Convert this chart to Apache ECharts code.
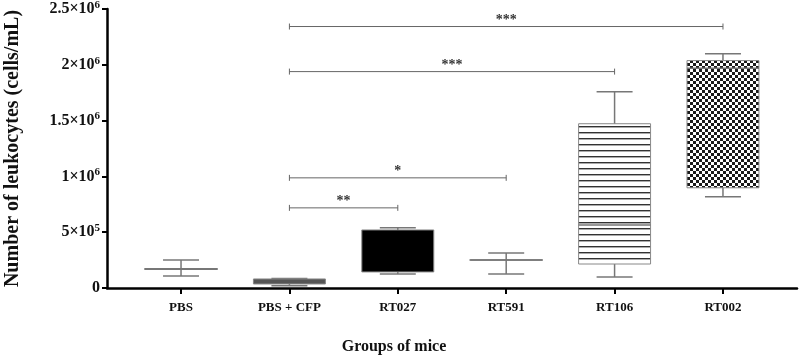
<!DOCTYPE html>
<html>
<head>
<meta charset="utf-8">
<script src="https://cdn.jsdelivr.net/npm/echarts@6/dist/echarts.min.js"></script>
<style>
  html, body { margin: 0; padding: 0; background: #fff; }
  #chart { width: 800px; height: 357px; }
</style>
</head>
<body>
<div id="chart"></div>
<script>
// groups on the x axis
const groups = ['PBS', 'PBS + CFP', 'RT027', 'RT591', 'RT106', 'RT002']
// box plot values (cells/mL)
const mins = [108000, 20000, 126000, 126000, 99000, 817000]
const q1s = [168000, 36000, 144000, 250000, 215000, 898000]
const medians = [170000, 55000, 330000, 251000, 565000, 1970000]
const q3s = [172000, 81000, 520000, 252000, 1472000, 2038000]
const maxs = [251000, 85000, 539000, 314000, 1759000, 2100000]
// y ticks
const yTicks = [0, 500000, 1000000, 1500000, 2000000, 2500000]
const yTickLabels = ['0', '5×10^5', '1×10^6', '1.5×10^6', '2×10^6', '2.5×10^6']
// significance brackets
const sigFrom = [1, 1, 1, 1]
const sigTo = [5, 4, 3, 2]
const sigLevel = [2343000, 1939000, 987000, 718000]
const sigLabel = ['***', '***', '*', '**']

// 填充图案
function makeHatch () {
  const c = document.createElement('canvas')
  c.width = 4; c.height = 6
  const ctx = c.getContext('2d')
  ctx.fillStyle = '#fff'; ctx.fillRect(0, 0, 4, 6)
  ctx.fillStyle = '#333'; ctx.fillRect(0, 0, 4, 1)
  ctx.fillStyle = '#aaa'; ctx.fillRect(0, 1, 4, 1)
  return { image: c, repeat: 'repeat' }
}
function makeChecker () {
  const c = document.createElement('canvas')
  c.width = 6; c.height = 6
  const ctx = c.getContext('2d')
  ctx.fillStyle = '#fff'; ctx.fillRect(0, 0, 6, 6)
  ctx.fillStyle = '#1a1a1a'
  ctx.fillRect(0, 0, 3, 3); ctx.fillRect(3, 3, 3, 3)
  return { image: c, repeat: 'repeat' }
}
const boxFills = [null, '#555', '#000', null, makeHatch(), makeChecker()]
const lineColor = '#777'
const font = '"Liberation Serif", "Times New Roman", serif'

const boxData = groups.map((g, i) => [i, mins[i], q1s[i], medians[i], q3s[i], maxs[i]])
const sigData = sigFrom.map((f, i) => [f, sigTo[i], sigLevel[i]])

function renderBox (params, api) {
  const i = api.value(0)
  const pMin = api.coord([i, api.value(1)])
  const pQ1 = api.coord([i, api.value(2)])
  const pMed = api.coord([i, api.value(3)])
  const pQ3 = api.coord([i, api.value(4)])
  const pMax = api.coord([i, api.value(5)])
  const half = api.size([0.332, 0])[0]
  const cap = half / 2
  const x = pMin[0]
  const fill = boxFills[params.dataIndex]
  const ls = { stroke: lineColor, lineWidth: 1.5 }
  const children = [
    { type: 'line', shape: { x1: x, y1: pMin[1], x2: x, y2: pMax[1] }, style: ls },
    { type: 'line', shape: { x1: x - cap, y1: pMin[1], x2: x + cap, y2: pMin[1] }, style: ls },
    { type: 'line', shape: { x1: x - cap, y1: pMax[1], x2: x + cap, y2: pMax[1] }, style: ls },
    {
      type: 'rect',
      shape: { x: x - half, y: pQ3[1], width: half * 2, height: pQ1[1] - pQ3[1] },
      style: { fill: fill || 'none', stroke: fill ? '#888' : lineColor, lineWidth: fill ? 1 : 1.5 }
    }
  ]
  if (!fill || typeof fill !== 'string') {
    children.push({ type: 'line', shape: { x1: x - half, y1: pMed[1], x2: x + half, y2: pMed[1] }, style: ls })
  }
  return { type: 'group', children }
}

function renderSig (params, api) {
  const a = api.coord([api.value(0), api.value(2)])
  const b = api.coord([api.value(1), api.value(2)])
  const ls = { stroke: '#666', lineWidth: 1 }
  return {
    type: 'group',
    children: [
      { type: 'line', shape: { x1: a[0], y1: a[1], x2: b[0], y2: b[1] }, style: ls },
      { type: 'line', shape: { x1: a[0], y1: a[1] - 3, x2: a[0], y2: a[1] + 3 }, style: ls },
      { type: 'line', shape: { x1: b[0], y1: b[1] - 3, x2: b[0], y2: b[1] + 3 }, style: ls },
      {
        type: 'text',
        style: {
          x: (a[0] + b[0]) / 2,
          y: a[1] + 1,
          text: sigLabel[params.dataIndex],
          fill: '#333',
          font: 'bold 14px ' + font,
          align: 'center',
          verticalAlign: 'bottom'
        }
      }
    ]
  }
}

const chart = echarts.init(document.getElementById('chart'))
chart.setOption({
  animation: false,
  grid: { left: 107, right: 3, top: 9, bottom: 69, outerBoundsMode: 'none', containLabel: false },
  xAxis: {
    type: 'value',
    min: -0.683,
    max: 5.683,
    name: 'Groups of mice',
    nameLocation: 'middle',
    nameGap: 51,
    nameTextStyle: { fontFamily: font, fontWeight: 'bold', fontSize: 16, color: '#111', padding: [0, 116, 0, 0] },
    splitLine: { show: false },
    axisLine: { show: true, onZero: false, lineStyle: { color: '#000', width: 2.5 } },
    axisTick: { show: true, length: 6, lineStyle: { color: '#000', width: 2 }, customValues: groups.map((g, i) => i) },
    axisLabel: {
      customValues: groups.map((g, i) => i),
      formatter: v => groups[Math.round(v)],
      fontFamily: font,
      fontWeight: 'bold',
      fontSize: 13,
      color: '#111',
      margin: 13
    }
  },
  yAxis: {
    type: 'value',
    min: 0,
    max: 2500000,
    interval: 500000,
    name: 'Number of leukocytes (cells/mL)',
    nameLocation: 'middle',
    nameGap: 84,
    nameTextStyle: { fontFamily: font, fontWeight: 'bold', fontSize: 20, color: '#111' },
    splitLine: { show: false },
    axisLine: { show: true, onZero: false, lineStyle: { color: '#000', width: 2.5 } },
    axisTick: { show: true, length: 5, lineStyle: { color: '#000', width: 2 } },
    axisLabel: {
      margin: 7,
      formatter: v => {
        const lbl = yTickLabels[yTicks.indexOf(v)] || ''
        const parts = lbl.split('^')
        return parts.length > 1 ? '{b|' + parts[0] + '}{s|' + parts[1] + '}' : '{b|' + parts[0] + '}'
      },
      rich: {
        b: { fontFamily: font, fontWeight: 'bold', fontSize: 16, color: '#111' },
        s: { fontFamily: font, fontWeight: 'bold', fontSize: 11, color: '#111', padding: [0, 0, 8, 0] }
      }
    }
  },
  series: [
    {
      type: 'custom',
      renderItem: renderBox,
      encode: { x: 0, y: [1, 2, 3, 4, 5] },
      data: boxData,
      clip: false,
      z: 3
    },
    {
      type: 'custom',
      renderItem: renderSig,
      encode: { x: [0, 1], y: 2 },
      data: sigData,
      clip: false,
      z: 2
    }
  ]
})
</script>
</body>
</html>
